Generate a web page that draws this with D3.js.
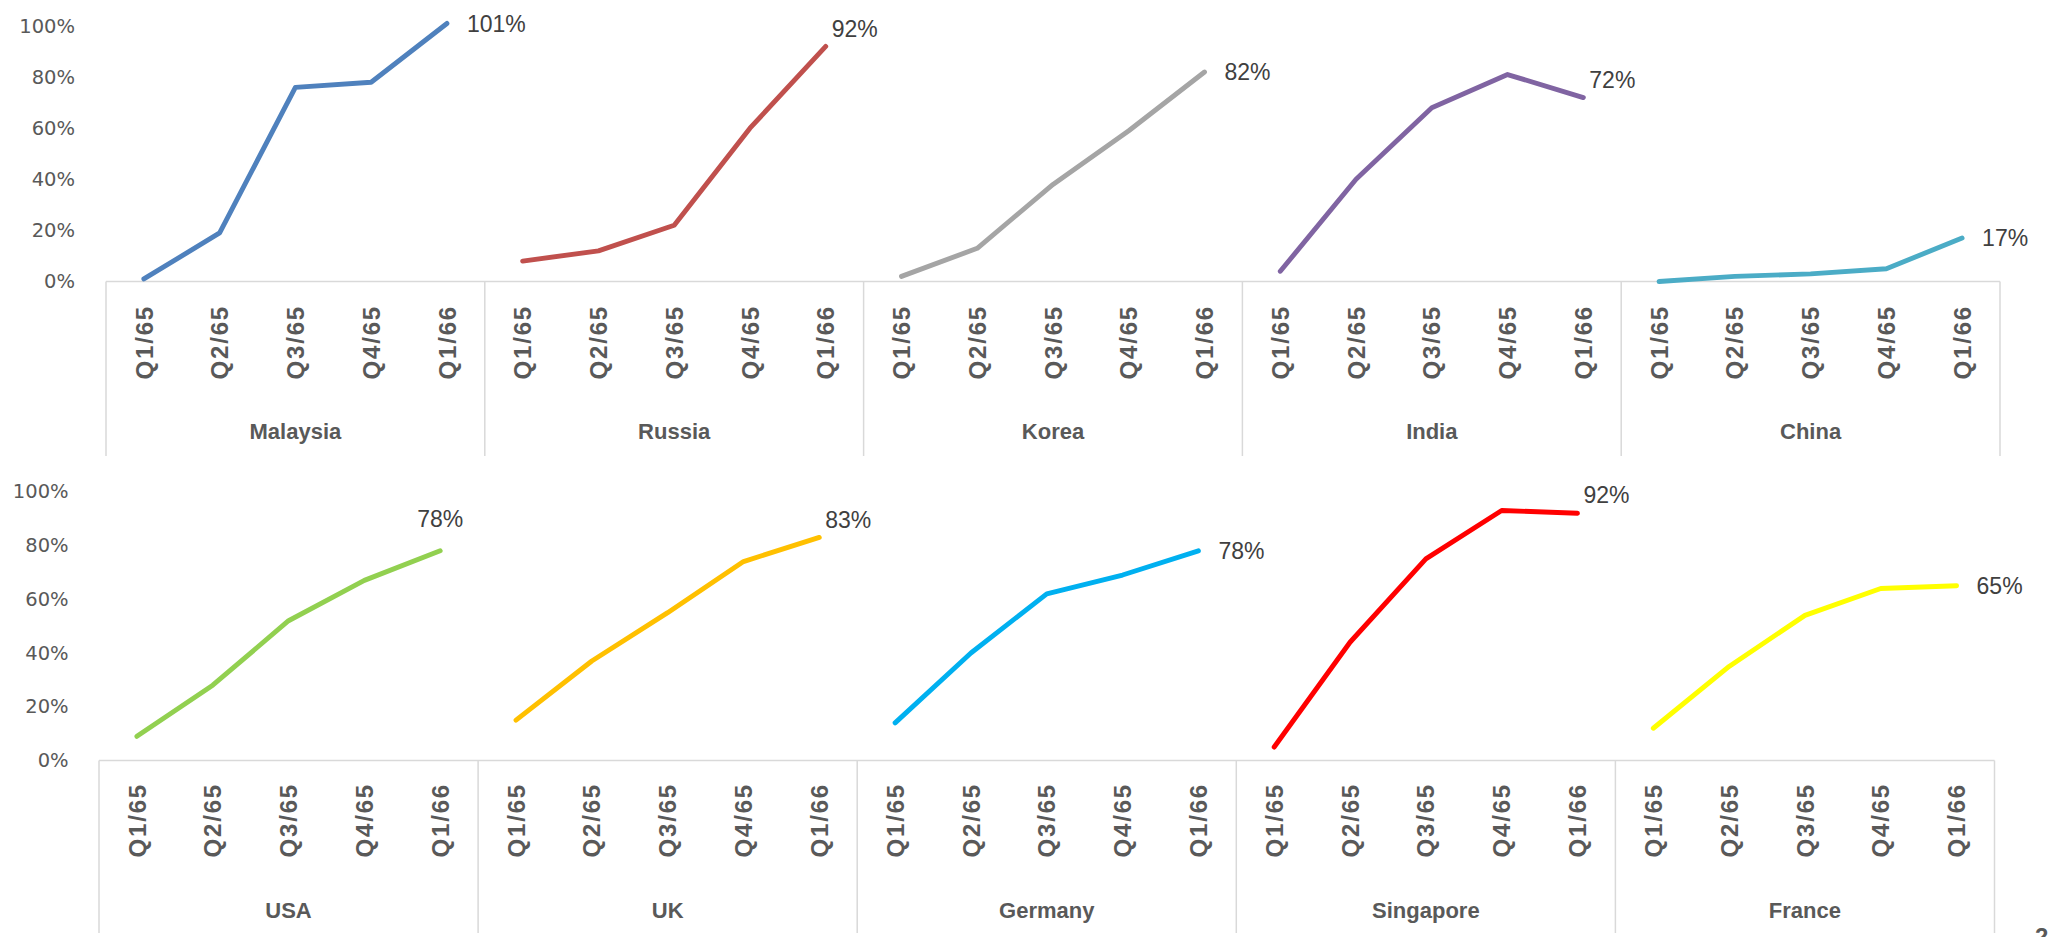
<!DOCTYPE html>
<html>
<head>
<meta charset="utf-8">
<script src="https://cdn.jsdelivr.net/npm/d3@7/dist/d3.min.js"></script>
<style>
  html, body { margin: 0; padding: 0; background: #ffffff; }
  svg { display: block; }
</style>
</head>
<body>
<script>
// Quarterly share (%) per country, two rows of small-multiple line panels
const quarters = ["Q1/65", "Q2/65", "Q3/65", "Q4/65", "Q1/66"];

const topCountries = ["Malaysia", "Russia", "Korea", "India", "China"];
const malaysia = [1, 19, 76, 78, 101];
const russia   = [8, 12, 22, 60, 92];
const korea    = [2, 13, 38, 59, 82];
const india    = [4, 40, 68, 81, 72];
const china    = [0, 2, 3, 5, 17];

const bottomCountries = ["USA", "UK", "Germany", "Singapore", "France"];
const usa       = [9, 28, 52, 67, 78];
const uk        = [15, 37, 55, 74, 83];
const germany   = [14, 40, 62, 69, 78];
const singapore = [5, 44, 75, 93, 92];
const france    = [12, 35, 54, 64, 65];

const yTicks = [0, 20, 40, 60, 80, 100];

const topColors    = ["#4F81BD", "#C0504D", "#A5A5A5", "#8064A2", "#4BACC6"];
const bottomColors = ["#92D050", "#FFC000", "#00B0F0", "#FF0000", "#FFFF00"];

// where the end-value label sits relative to the last point
const topLabelPlace    = ["right", "upper", "right", "upper", "right"];
const bottomLabelPlace = ["above", "upper", "right", "upper", "right"];

const W = 2048, H = 937;
const svg = d3.select("body").append("svg")
  .attr("width", W).attr("height", H)
  .attr("viewBox", `0 0 ${W} ${H}`);

const pct = d3.format(".0%");
const gridColor = "#d9d9d9";
const axisText = "#595959";

function drawPanel(cfg) {
  const keys = [];
  cfg.countries.forEach(c => quarters.forEach(q => keys.push(c + "|" + q)));

  const x = d3.scaleBand().domain(keys).range([cfg.left, cfg.right]).padding(0);
  const y = d3.scaleLinear().domain([0, 100]).range([cfg.y0, cfg.y100]);
  const bw = x.bandwidth();

  const g = svg.append("g");

  // value axis (labels only)
  const yAxis = d3.axisLeft(y)
    .tickValues(yTicks)
    .tickSize(0)
    .tickPadding(cfg.tickPad)
    .tickFormat(d => pct(d / 100));
  const ya = g.append("g")
    .attr("transform", `translate(${cfg.left},0)`)
    .call(yAxis);
  ya.select(".domain").remove();
  ya.selectAll("text")
    .attr("font-family", "'DejaVu Sans', sans-serif")
    .attr("font-size", 19.5)
    .attr("fill", axisText);

  // category axis: baseline + group dividers
  g.append("line")
    .attr("x1", cfg.left).attr("x2", cfg.right)
    .attr("y1", cfg.y0).attr("y2", cfg.y0)
    .attr("stroke", gridColor).attr("stroke-width", 1.5);

  const bounds = cfg.countries.map(c => x(c + "|" + quarters[0])).concat([cfg.right]);
  g.selectAll(".divider").data(bounds).join("line")
    .attr("class", "divider")
    .attr("x1", d => d).attr("x2", d => d)
    .attr("y1", cfg.y0).attr("y2", cfg.divBottom)
    .attr("stroke", gridColor).attr("stroke-width", 1.5);

  // quarter labels, rotated
  const xAxis = d3.axisBottom(x)
    .tickSize(0)
    .tickFormat(k => k.split("|")[1]);
  const xa = g.append("g")
    .attr("transform", `translate(0,${cfg.y0})`)
    .call(xAxis);
  xa.select(".domain").remove();
  xa.selectAll("text")
    .attr("transform", "rotate(-90)")
    .attr("text-anchor", "end")
    .attr("x", -cfg.qOffset)
    .attr("y", 0)
    .attr("dy", "0.36em")
    .attr("font-family", "'Liberation Sans', Arial, sans-serif")
    .attr("font-weight", "bold")
    .attr("font-size", 24)
    .attr("letter-spacing", 1.8)
    .attr("fill", axisText);

  // country names
  g.selectAll(".country").data(cfg.countries).join("text")
    .attr("class", "country")
    .attr("x", c => x(c + "|" + quarters[2]) + bw / 2)
    .attr("y", cfg.catBaseline)
    .attr("text-anchor", "middle")
    .attr("font-family", "'Liberation Sans', Arial, sans-serif")
    .attr("font-weight", "bold")
    .attr("font-size", 22)
    .attr("fill", axisText)
    .text(c => c);

  // lines
  const line = d3.line()
    .x(d => x(d.key) + bw / 2)
    .y(d => y(d.v));

  cfg.countries.forEach((c, i) => {
    const pts = cfg.series[i].map((v, j) => ({ key: c + "|" + quarters[j], v }));
    g.append("path")
      .datum(pts)
      .attr("fill", "none")
      .attr("stroke", cfg.colors[i])
      .attr("stroke-width", 4.9)
      .attr("stroke-linecap", "round")
      .attr("stroke-linejoin", "round")
      .attr("d", line);

    const last = pts[pts.length - 1];
    const px = x(last.key) + bw / 2;
    const py = y(last.v);
    const place = cfg.places[i];
    let lx = px + 20, ly = py, anchor = "start";
    if (place === "upper") { lx = px + 6; ly = py - 18; }
    if (place === "above") { lx = px; ly = py - 32; anchor = "middle"; }
    g.append("text")
      .attr("x", lx).attr("y", ly)
      .attr("dy", "0.36em")
      .attr("text-anchor", anchor)
      .attr("font-family", "'Liberation Sans', Arial, sans-serif")
      .attr("font-size", 23)
      .attr("fill", "#404040")
      .text(pct(last.v / 100));
  });
}

drawPanel({
  countries: topCountries,
  series: [malaysia, russia, korea, india, china],
  colors: topColors,
  places: topLabelPlace,
  left: 106, right: 2000,
  y0: 281.5, y100: 26,
  divBottom: 456,
  qOffset: 23.5,
  catBaseline: 438.5,
  tickPad: 31
});

drawPanel({
  countries: bottomCountries,
  series: [usa, uk, germany, singapore, france],
  colors: bottomColors,
  places: bottomLabelPlace,
  left: 99, right: 1994.5,
  y0: 760.5, y100: 491.7,
  divBottom: 933,
  qOffset: 22.5,
  catBaseline: 917.5,
  tickPad: 30.4
});

// page number at the bottom-right corner
svg.append("text")
  .attr("x", 2035).attr("y", 945)
  .attr("font-family", "'Liberation Sans', Arial, sans-serif")
  .attr("font-weight", "bold")
  .attr("font-size", 24)
  .attr("fill", "#595959")
  .text("2");
</script>
</body>
</html>
